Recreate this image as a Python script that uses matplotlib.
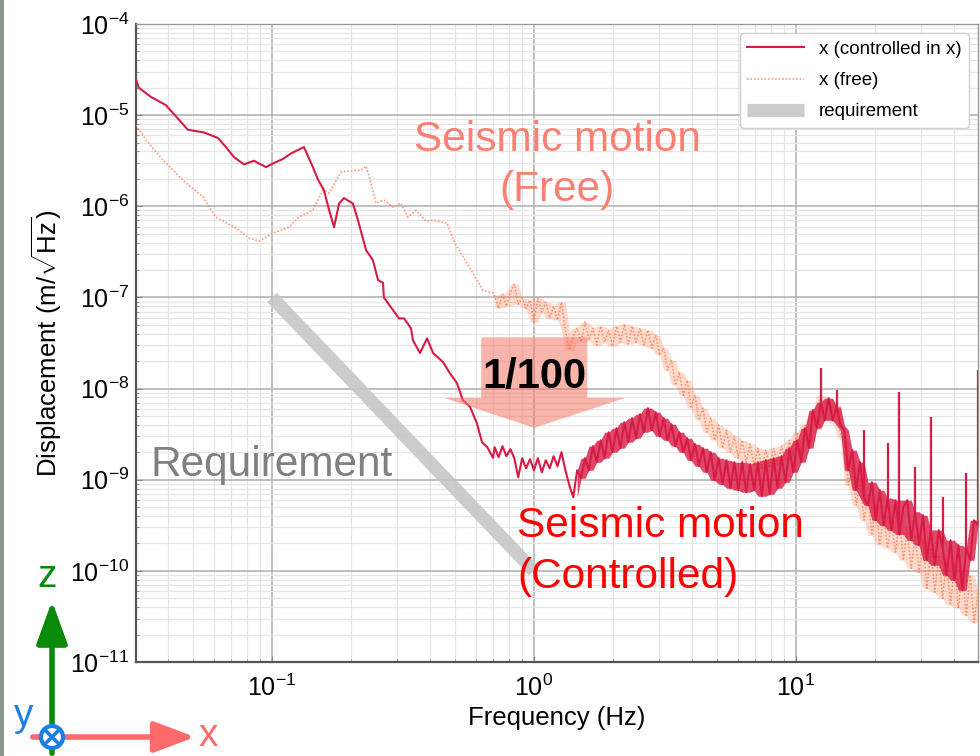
import numpy as np
import matplotlib
matplotlib.use("Agg")
import matplotlib.pyplot as plt
from matplotlib.patches import Polygon, Circle, FancyArrowPatch, Rectangle
from matplotlib.ticker import LogLocator, NullFormatter

plt.rcParams['font.family'] = ['Liberation Sans', 'DejaVu Sans']
plt.rcParams['mathtext.fontset'] = 'custom'
plt.rcParams['mathtext.rm'] = 'Liberation Sans'
plt.rcParams['mathtext.it'] = 'Liberation Sans:italic'
plt.rcParams['mathtext.bf'] = 'Liberation Sans:bold'

# ---------------------------------------------------------------------------
# Spectra, in decades: log10(frequency / Hz) and log10(displacement / m/rtHz)
# ---------------------------------------------------------------------------
# controlled, low-frequency part
ctrl_low_logf = [-1.519, -1.508, -1.462, -1.405, -1.355, -1.321, -1.260, -1.206,
                 -1.176, -1.145, -1.107, -1.069, -1.023, -0.996, -0.958, -0.927,
                 -0.878, -0.844, -0.824, -0.802, -0.782, -0.763, -0.744, -0.725,
                 -0.691, -0.672, -0.641, -0.615, -0.595, -0.576, -0.573, -0.538,
                 -0.515, -0.496, -0.469, -0.462, -0.435, -0.408, -0.385, -0.347,
                 -0.321, -0.294, -0.271, -0.244, -0.218, -0.198, -0.179, -0.156]
ctrl_low_logd = [-4.61, -4.70, -4.80, -4.89, -5.05, -5.16, -5.19, -5.25,
                 -5.35, -5.46, -5.54, -5.50, -5.57, -5.53, -5.48, -5.42,
                 -5.35, -5.57, -5.71, -5.82, -6.04, -6.23, -5.97, -5.91,
                 -5.97, -6.15, -6.48, -6.59, -6.81, -6.84, -7.00, -7.14,
                 -7.23, -7.23, -7.34, -7.47, -7.61, -7.45, -7.61, -7.71,
                 -7.83, -7.94, -8.13, -8.20, -8.38, -8.59, -8.64, -8.76]

# free, low-frequency part
free_low_logf = [-1.519, -1.481, -1.416, -1.328, -1.263, -1.214, -1.137, -1.088,
                 -1.050, -0.996, -0.935, -0.897, -0.844, -0.805, -0.782, -0.737,
                 -0.706, -0.660, -0.641, -0.622, -0.603, -0.573, -0.538, -0.508,
                 -0.481, -0.450, -0.412, -0.385, -0.332, -0.302, -0.256, -0.218,
                 -0.195, -0.156]
free_low_logd = [-5.109, -5.273, -5.493, -5.745, -5.899, -6.119, -6.239, -6.349,
                 -6.382, -6.294, -6.228, -6.119, -6.042, -5.822, -5.855, -5.625,
                 -5.614, -5.603, -5.559, -5.745, -5.965, -5.932, -6.009, -5.965,
                 -6.119, -6.042, -6.163, -6.152, -6.185, -6.404, -6.624, -6.810,
                 -6.920, -6.953]

# high-resolution bins from 0.71 Hz up to the end of the plot
bin_logf = -0.150 + 0.015 * np.arange(124)

ctrl_bin_logd = [
    -8.643, -8.753, -8.632, -8.742, -8.665, -8.764, -8.973, -8.764, -8.874, -8.775,
    -8.896, -8.764, -8.918, -8.786, -8.874, -8.742, -8.852, -8.698, -8.896, -9.060,
    -9.192, -8.896, -8.984, -8.764, -8.896, -8.632, -8.808, -8.567, -8.764, -8.479,
    -8.698, -8.435, -8.654, -8.369, -8.588, -8.325, -8.545, -8.281, -8.479, -8.215,
    -8.457, -8.259, -8.523, -8.325, -8.567, -8.391, -8.632, -8.479, -8.698, -8.545,
    -8.786, -8.610, -8.852, -8.654, -8.918, -8.698, -9.006, -8.764, -9.050, -8.786,
    -9.093, -8.808, -9.115, -8.808, -9.137, -8.830, -9.115, -8.808, -9.181, -8.786,
    -9.159, -8.764, -9.093, -8.742, -9.028, -8.654, -8.918, -8.567, -8.808, -8.435,
    -8.654, -8.237, -8.435, -8.150, -8.347, -8.105, -8.347, -8.200, -8.402, -8.457,
    -8.896, -8.676, -9.115, -8.808, -9.200, -9.280, -9.028, -9.445, -9.115, -9.500,
    -9.200, -9.554, -9.225, -9.600, -9.300, -9.225, -9.664, -9.350, -9.719, -9.390,
    -9.884, -9.550, -9.939, -9.554, -9.750, -10.048, -9.664, -10.103, -9.719, -10.213,
    -9.750, -9.884, -9.445, -9.500]

# narrow spectral lines of the controlled spectrum
ctrl_line_logf = [1.095, 1.155, 1.260, 1.350, 1.395, 1.455, 1.515, 1.560, 1.650, 1.695]
ctrl_line_logd = [-7.776, -8.018, -8.457, -8.599, -8.040, -8.863, -8.314, -9.192,
                  -8.929, -7.798]

free_bin_logd = [
    -6.986, -7.118, -6.964, -7.096, -6.942, -6.854, -7.074, -7.008, -7.118, -7.030,
    -7.271, -7.008, -7.161, -7.052, -7.227, -7.096, -7.249, -7.052, -7.359, -7.579,
    -7.425, -7.337, -7.491, -7.271, -7.469, -7.337, -7.524, -7.315, -7.491, -7.359,
    -7.535, -7.315, -7.491, -7.293, -7.513, -7.315, -7.491, -7.337, -7.524, -7.359,
    -7.557, -7.414, -7.633, -7.557, -7.798, -7.688, -7.963, -7.820, -8.073, -7.908,
    -8.215, -8.073, -8.347, -8.215, -8.479, -8.325, -8.567, -8.402, -8.654, -8.457,
    -8.698, -8.523, -8.764, -8.567, -8.808, -8.610, -8.841, -8.654, -8.874, -8.676,
    -8.852, -8.654, -8.830, -8.632, -8.786, -8.567, -8.742, -8.479, -8.676, -8.391,
    -8.588, -8.259, -8.457, -8.073, -8.325, -8.127, -8.369, -8.182, -8.512, -8.567,
    -9.060, -8.841, -9.280, -9.006, -9.445, -9.170, -9.609, -9.280, -9.719, -9.390,
    -9.752, -9.445, -9.796, -9.445, -9.884, -9.554, -9.972, -9.609, -10.015, -9.664,
    -10.191, -9.752, -10.235, -9.829, -10.301, -9.884, -10.378, -9.939, -10.411, -9.994,
    -10.487, -10.048, -10.564, -10.213]

# requirement: f^-3 line between 0.1 Hz and 1 Hz
req_freq = [0.1, 1.0]
req_disp = [1e-7, 1e-10]


def envelope(logd):
    """Lower/upper envelope of neighbouring bins, for shading a dense spectrum."""
    d = np.asarray(logd)
    pad = np.concatenate([[d[0]], d, [d[-1]]])
    win = np.stack([pad[:-2], pad[1:-1], pad[2:]])
    return 10 ** win.min(axis=0), 10 ** win.max(axis=0)


bin_f = 10 ** bin_logf
ctrl_f = 10 ** np.concatenate([ctrl_low_logf, bin_logf])
ctrl_d = 10 ** np.concatenate([ctrl_low_logd, ctrl_bin_logd])
free_f = 10 ** np.concatenate([free_low_logf, bin_logf])
free_d = 10 ** np.concatenate([free_low_logd, free_bin_logd])
line_f = 10 ** np.asarray(ctrl_line_logf)
line_d = 10 ** np.asarray(ctrl_line_logd)
line_base = 10 ** np.interp(ctrl_line_logf, bin_logf, ctrl_bin_logd)

# ---------------------------------------------------------------------------
W, H = 980, 756
fig = plt.figure(figsize=(W / 100, H / 100), dpi=100)
ax = fig.add_axes([136 / W, 1 - 662 / H, (978 - 136) / W, (662 - 24) / H])

ax.set_xscale('log')
ax.set_yscale('log')
ax.set_xlim(10 ** -1.519, 10 ** 1.695)
ax.set_ylim(1e-11, 1e-4)

CTRL = '#d81b44'
FREE = '#ff7f4f'

h_req, = ax.plot(req_freq, req_disp, color='#c4c4c4', lw=9.5, alpha=0.85,
                 solid_capstyle='butt', label='requirement', zorder=2)

free_lo, free_hi = envelope(free_bin_logd)
ax.fill_between(bin_f, free_lo, free_hi, color=FREE, alpha=0.28, lw=0, zorder=3)
h_free, = ax.plot(free_f, free_d, color=FREE, lw=1.1, ls=(0, (1, 1.3)),
                  alpha=0.9, label='x (free)', zorder=3)

# the controlled spectrum only becomes a dense band above ~1.5 Hz
ctrl_lo, ctrl_hi = envelope(ctrl_bin_logd)
dense = slice(21, None)
ax.fill_between(bin_f[dense], ctrl_lo[dense], ctrl_hi[dense], color=CTRL,
                alpha=0.8, lw=0, zorder=4)
h_ctrl, = ax.plot(ctrl_f, ctrl_d, color=CTRL, lw=1.5, label='x (controlled in x)',
                  zorder=4)
ax.vlines(line_f, line_base, line_d, color=CTRL, lw=1.6, zorder=4)

# grid and ticks
ax.yaxis.set_major_locator(LogLocator(base=10, numticks=20))
ax.yaxis.set_minor_locator(LogLocator(base=10, subs=np.arange(2, 10), numticks=20))
ax.yaxis.set_minor_formatter(NullFormatter())
ax.xaxis.set_minor_formatter(NullFormatter())
ax.grid(True, which='major', color='#b4b4b4', lw=1.2)
ax.grid(True, which='minor', color='#e6e6e6', lw=0.9)
ax.set_axisbelow(True)
ax.tick_params(which='both', direction='in', labelsize=18, color='#888888')
ax.tick_params(which='major', length=4, pad=5)
ax.tick_params(axis='x', which='major', pad=9)
ax.tick_params(which='minor', length=2)
for s in ax.spines.values():
    s.set_color('#999999')
    s.set_linewidth(1.0)
for s in ('left', 'bottom'):
    ax.spines[s].set_color('#555555')
    ax.spines[s].set_linewidth(1.6)

ax.set_xlabel('Frequency (Hz)', fontsize=18.5, labelpad=4)
ax.set_ylabel(r'Displacement (m/$\sqrt{\mathrm{Hz}}$)', fontsize=18.5, labelpad=4)

ax.legend(handles=[h_ctrl, h_free, h_req], loc='upper right', fontsize=13.5,
          frameon=True, fancybox=True, borderaxespad=0.5, handlelength=3.0,
          labelspacing=0.75, edgecolor='#d0d0d0', framealpha=1.0)

# "1/100" reduction arrow
arrow_shape = [(0.410, 0.509), (0.536, 0.509), (0.536, 0.414), (0.581, 0.414),
               (0.473, 0.367), (0.366, 0.414), (0.410, 0.414)]
ax.add_patch(Polygon(arrow_shape, closed=True, transform=ax.transAxes,
                     facecolor='#f47868', edgecolor='none', alpha=0.55, zorder=5))
ax.text(0.473, 0.446, '1/100', transform=ax.transAxes, fontsize=30,
        fontweight='bold', color='black', ha='center', va='center', zorder=6)

ax.text(0.500, 0.779, 'Seismic motion\n(Free)', transform=ax.transAxes,
        fontsize=30.5, color='#fa8072', ha='center', va='center',
        linespacing=1.35, zorder=6)
ax.text(0.4525, 0.173, 'Seismic motion\n(Controlled)', transform=ax.transAxes,
        fontsize=30.5, color='#ff0000', ha='left', va='center',
        linespacing=1.35, zorder=6)
ax.text(0.161, 0.309, 'Requirement', transform=ax.transAxes, fontsize=30.5,
        color='#808080', ha='center', va='center', zorder=6)

# coordinate-frame sketch in the lower-left corner (pixel-like overlay)
ov = fig.add_axes([0, 0, 1, 1], zorder=10)
ov.set_xlim(0, W)
ov.set_ylim(H, 0)
ov.axis('off')
ov.patch.set_alpha(0)

ov.add_patch(Rectangle((0, 0), 4, H, facecolor='#8a978c', edgecolor='none'))

ov.add_patch(FancyArrowPatch((52, 756), (52, 598),
                             arrowstyle='-|>,head_length=1.3,head_width=0.47',
                             mutation_scale=20, color='#0a8a0a', lw=4))
ov.add_patch(FancyArrowPatch((30, 737), (198, 737),
                             arrowstyle='-|>,head_length=1.25,head_width=0.47',
                             mutation_scale=20, color='#ff6b6b', lw=4))
ov.add_patch(Circle((52, 737), 11, facecolor='white', edgecolor='#1a7fe6', lw=3))
ov.plot([45, 59], [730, 744], color='#1a7fe6', lw=2.6)
ov.plot([45, 59], [744, 730], color='#1a7fe6', lw=2.6)

ov.text(47, 577, 'z', color='#0a8a0a', fontsize=28, ha='center', va='center')
ov.text(208, 736, 'x', color='#ff6b6b', fontsize=28, ha='center', va='center')
ov.text(24, 716, 'y', color='#1a7fe6', fontsize=28, ha='center', va='center')

fig.savefig('out.png', dpi=100)
